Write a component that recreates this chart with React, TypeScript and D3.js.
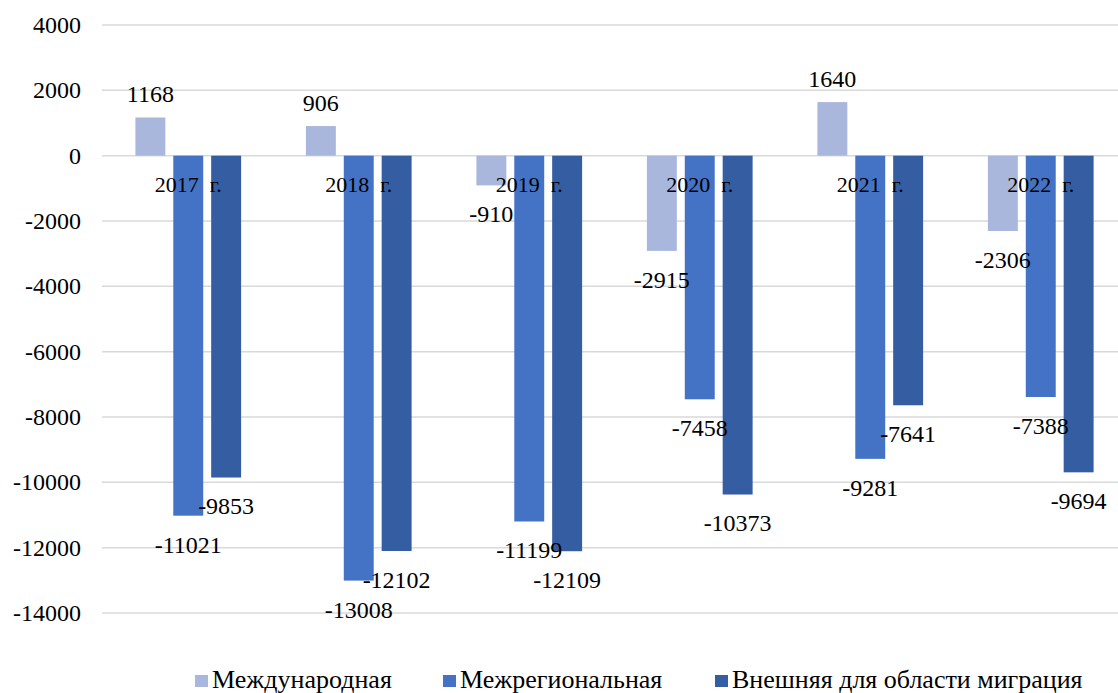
import React from "react";
import * as d3 from "d3";

const years = ["2017  г.", "2018  г.", "2019  г.", "2020  г.", "2021  г.", "2022  г."];
const seriesNames = ["Международная", "Межрегиональная", "Внешняя для области миграция"];
const international = [1168, 906, -910, -2915, 1640, -2306];
const interregional = [-11021, -13008, -11199, -7458, -9281, -7388];
const external = [-9853, -12102, -12109, -10373, -7641, -9694];
const yTicks = [4000, 2000, 0, -2000, -4000, -6000, -8000, -10000, -12000, -14000];
const colors = ["#A9B7DD", "#4472C4", "#345DA2"];

const W = 1118;
const H = 693;
const FONT = "Times New Roman";

export default function App() {
  const series = [international, interregional, external];
  const y = d3.scaleLinear().domain([-14000, 4000]).range([613, 25]);
  const x0 = d3.scaleBand<string>().domain(years).range([103, 1126]).paddingInner(0.38).paddingOuter(0.19);
  const x1 = d3.scaleBand<string>().domain(seriesNames).range([0, x0.bandwidth()]).paddingInner(0.21);

  const legendX = [195, 443, 715];

  return (
    <svg width={W} height={H} style={{ position: "absolute", left: 0, top: 0, background: "#fff" }}>
      {yTicks.map((t) => (
        <g key={t}>
          <line x1={102} x2={W} y1={y(t)} y2={y(t)} stroke="#D9D9D9" strokeWidth={1.5} />
          <text x={81} y={y(t)} dy="0.33em" textAnchor="end" fontSize={24} fill="#000" style={{ fontFamily: FONT }}>
            {t}
          </text>
        </g>
      ))}
      {years.map((yr, i) => (
        <g key={yr} transform={`translate(${x0(yr)},0)`}>
          {seriesNames.map((s, j) => {
            const v = series[j][i];
            const bx = x1(s)!;
            const top = y(Math.max(0, v));
            const bottom = y(Math.min(0, v));
            return (
              <rect key={s} x={bx} y={top} width={x1.bandwidth()} height={bottom - top} fill={colors[j]} />
            );
          })}
        </g>
      ))}
      {years.map((yr, i) => (
        <g key={yr + "l"} transform={`translate(${x0(yr)},0)`}>
          <text
            x={x0.bandwidth() / 2}
            y={y(0) + 29}
            dy="0.33em"
            textAnchor="middle"
            fontSize={22}
            style={{ whiteSpace: "pre", fontFamily: FONT }}
            fill="#000"
          >
            {yr}
          </text>
          {seriesNames.map((s, j) => {
            const v = series[j][i];
            const cx = x1(s)! + x1.bandwidth() / 2;
            const ly = v >= 0 ? y(v) - 23 : y(v) + 29;
            return (
              <text key={s} x={cx} y={ly} dy="0.33em" textAnchor="middle" fontSize={24} fill="#000" style={{ fontFamily: FONT }}>
                {v}
              </text>
            );
          })}
        </g>
      ))}
      {seriesNames.map((s, j) => (
        <g key={s} transform={`translate(${legendX[j]},688)`}>
          <rect x={0} y={-13} width={13} height={12} fill={colors[j]} />
          <text x={17} y={0} fontSize={26} fill="#000" style={{ fontFamily: FONT }}>
            {s}
          </text>
        </g>
      ))}
    </svg>
  );
}
